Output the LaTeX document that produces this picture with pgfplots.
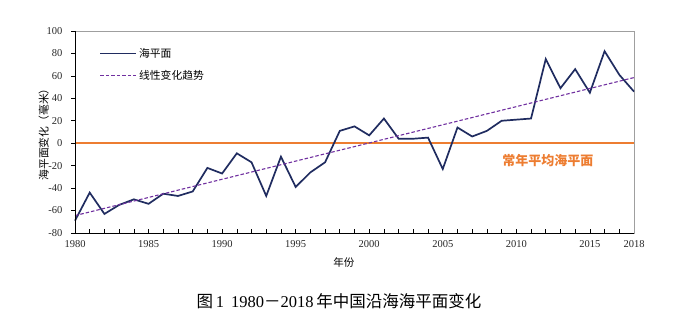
\documentclass[border=0pt]{standalone}
\usepackage{fontspec}
\setmainfont{Liberation Serif}
\newfontfamily\cjk{Noto Sans CJK SC}
\usepackage{pgfplots}
\pgfplotsset{compat=1.18}
\definecolor{navy}{RGB}{32,44,96}
\definecolor{trend}{RGB}{112,48,160}
\definecolor{orng}{RGB}{237,125,49}
\begin{document}
\begin{tikzpicture}[x=1pt,y=1pt]
\path[use as bounding box] (0,0) rectangle (700,323);
\begin{axis}[
  at={(75pt,90pt)}, anchor=south west,
  scale only axis, width=559pt, height=202pt,
  xmin=1980, xmax=2018, ymin=-80, ymax=100,
  xtick={1980,1985,...,2015,2018},
  minor xtick={1980,...,2018},
  ytick={-80,-60,...,100},
  xtick pos=bottom, ytick pos=left,
  tick align=inside,
  major tick length=4pt, minor tick length=4pt,
  ytick style={xshift=-4pt},
  tick style={black, line width=0.6pt},
  axis line style={draw=gray!75, line width=0.8pt},
  /pgf/number format/assume math mode=true,
  /pgf/number format/1000 sep={},
  ticklabel style={font=\fontsize{10.5}{12}\selectfont, text=black!85},
  xticklabel style={yshift=-4pt},
  yticklabel style={xshift=-9pt},
  xlabel={\cjk 年份},
  xlabel style={at={(axis description cs:0.481,-0.144)}, anchor=center, font=\fontsize{10.5}{12}\selectfont},
  ylabel={\cjk 海平面变化（毫米）},
  ylabel style={at={(axis description cs:-0.056,0.5)}, anchor=center, font=\fontsize{10.8}{12}\selectfont},
  legend style={at={(axis description cs:0.038,0.935)}, anchor=north west, draw=none, fill=none,
    font=\cjk\fontsize{10.8}{12}\selectfont, row sep=7pt},
  legend cell align=left,
  legend image code/.code={\draw[#1] (0pt,0pt) -- (36pt,0pt);},
  clip=false,
]
\addplot[color=orng, line width=1.6pt, forget plot] coordinates {(1980,0) (2018,0)};
\addplot[navy, line width=1.7pt] coordinates {
(1980,-69) (1981,-44) (1982,-63) (1983,-55) (1984,-50) (1985,-54) (1986,-45)
(1987,-47) (1988,-43) (1989,-22) (1990,-27) (1991,-9) (1992,-17) (1993,-47)
(1994,-12) (1995,-39) (1996,-26) (1997,-17) (1998,11) (1999,15) (2000,7)
(2001,22) (2002,4) (2003,4) (2004,5) (2005,-23) (2006,14) (2007,6)
(2008,11) (2009,20) (2010,21) (2011,22) (2012,75) (2013,49) (2014,66)
(2015,45) (2016,82) (2017,61) (2018,46)};
\addlegendentry{海平面}
\addplot[trend, line width=1.1pt, dash pattern=on 3.5pt off 2pt] coordinates {(1980,-64.5) (2018,58.5)};
\addlegendentry{线性变化趋势}
\node[text=orng, font=\cjk\bfseries\fontsize{13}{15}\selectfont] at (axis cs:2012.15,-15.2) {常年平均海平面};
\draw[black, line width=0.8pt] (rel axis cs:0,1) -- (rel axis cs:0,0) -- (rel axis cs:1,0);
\end{axis}
\node[font=\fontsize{16.5}{18}\selectfont] at (339,22) {{\cjk 图}\,1\, 1980{\cjk －}2018\,{\cjk 年中国沿海海平面变化}};
\end{tikzpicture}
\end{document}
